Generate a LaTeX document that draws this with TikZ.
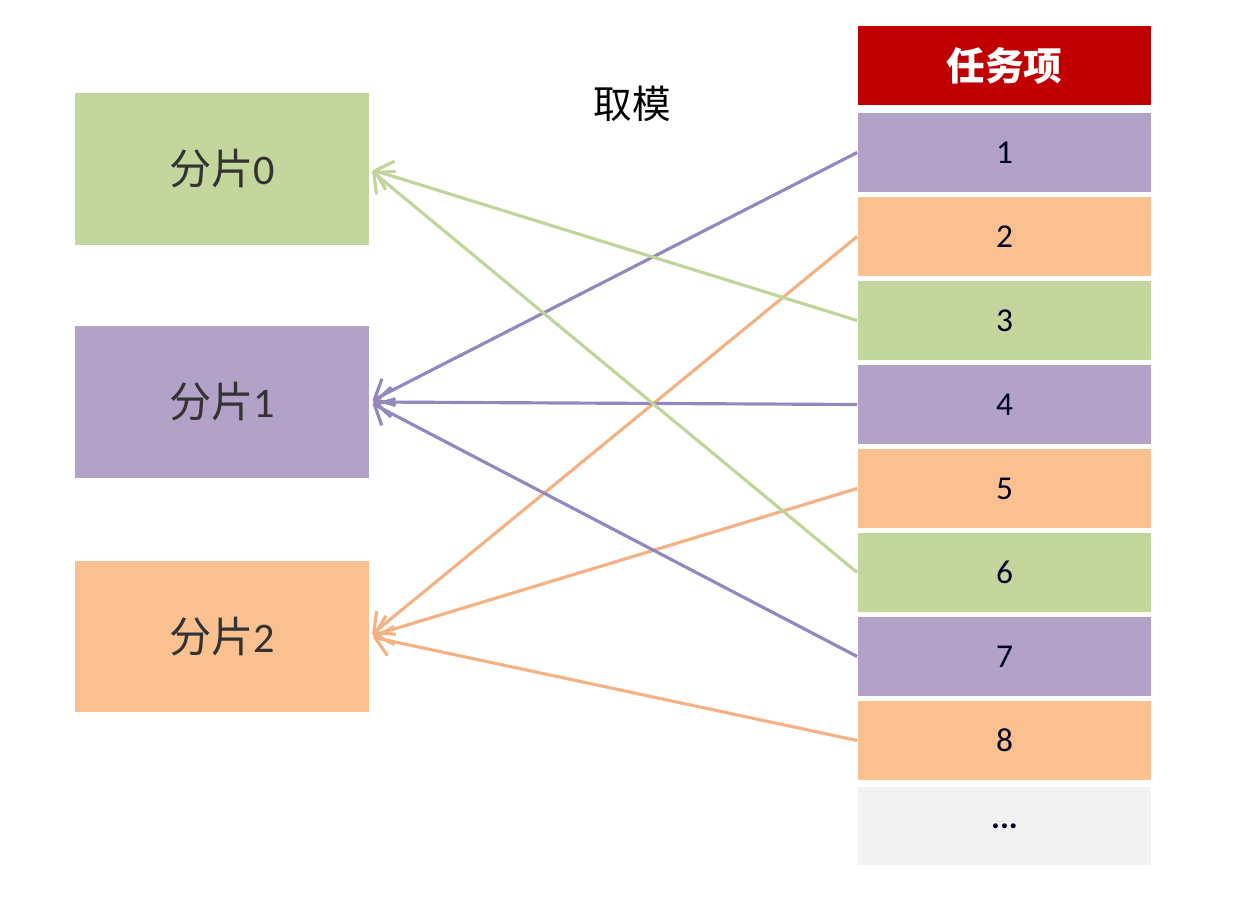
\documentclass[tikz,border=0pt]{standalone}
\usepackage{fontspec}
\setmainfont{Carlito}
\newfontfamily\cjk{Noto Sans CJK SC}
\usetikzlibrary{arrows.meta}
\tikzset{>={Straight Barb[length=3.2mm,width=6mm]}}
\definecolor{box0}{HTML}{C3D69B}
\definecolor{box1}{HTML}{B3A2C7}
\definecolor{box2}{HTML}{FAC090}
\definecolor{line0}{HTML}{BFD59A}
\definecolor{line1}{HTML}{9288BE}
\definecolor{line2}{HTML}{F4B183}
\definecolor{head}{HTML}{C00000}
\definecolor{rest}{HTML}{F2F2F2}
\tikzstyle{shard}=[inner sep=0pt,minimum width=5.88cm,minimum height=3.04cm,
                   font=\fontsize{24}{28}\selectfont,text=black!80]
\tikzstyle{item}=[inner sep=0pt,minimum width=5.88cm,minimum height=1.58cm,
                  font=\fontsize{19}{22}\selectfont,text=black!85!blue]
\tikzstyle{link}=[->,line width=1.8pt,shorten >=2pt]
\def\X{1004.5}
\def\H{84}

\begin{document}
\begin{tikzpicture}[x=0.02cm,y=-0.02cm]
  \useasboundingbox (0,0) rectangle (1238,909);

  % SHARDS
  \foreach \s/\y in {0/169, 1/402, 2/636.5}{
    \node[shard,fill=box\s] (S\s) at (222,\y) {{\cjk 分片}\s};
  }
  \node[font=\cjk\fontsize{22}{26}\selectfont] (mod) at (632,104) {取模};

  % TASK ITEMS
  \node[item,fill=head,text=white,font=\cjk\bfseries\fontsize{22}{26}\selectfont]
    (T0) at (\X,65.5) {任务项};
  \foreach \i/\s in {1/1, 2/2, 3/0, 4/1, 5/2, 6/0, 7/1, 8/2}{
    \node[item,fill=box\s] (T\i) at (\X,{152.5+\H*(\i-1)}) {\i};
  }
  \node[item,fill=rest,font=\bfseries\fontsize{19}{22}\selectfont] (T9) at (\X,826) {...};

  % LINKS
  \foreach \i/\s in {1/1, 2/2, 3/0, 4/1, 5/2, 6/0, 7/1, 8/2}{
    \draw[link,line\s] (T\i.west) -- (S\s.east);
  }

\end{tikzpicture}
\end{document}
